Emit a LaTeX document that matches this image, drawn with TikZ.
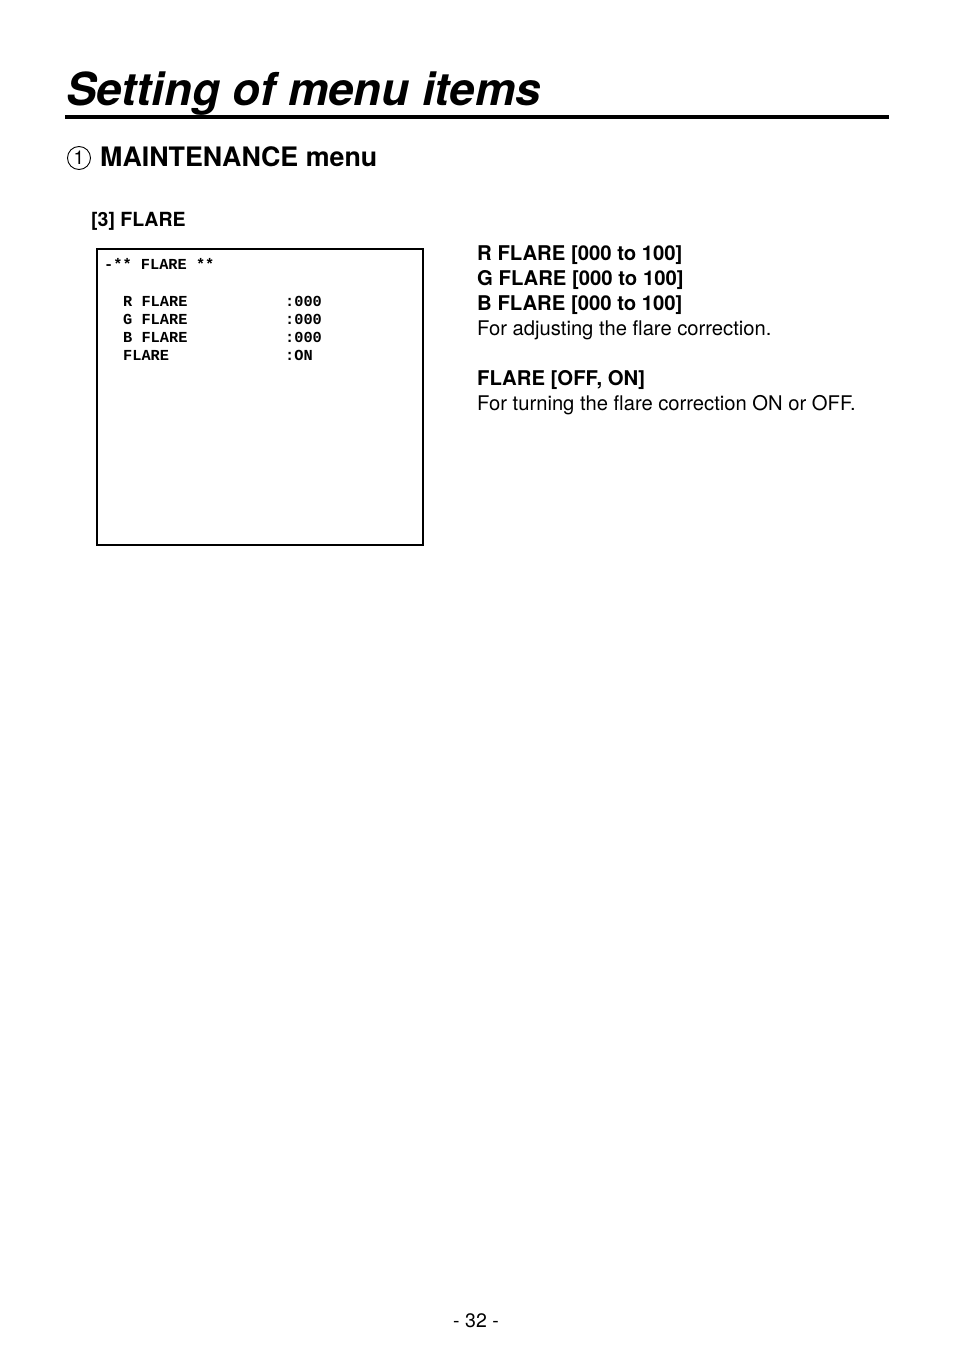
\documentclass[tikz,border=0pt]{standalone}
\usepackage{fontspec}
\setmainfont{TeX Gyre Heros}
\newfontfamily\menufont{Liberation Mono}
\usepackage{tikz}
\newcommand{\menurow}[4]
{   \node[menutxt] (#1) at (123,#2) {#3};
    \node[menutxt] (#1v) at (285,#2) {#4};
}
\newcommand{\itemhead}[3]
{   \node[headtxt] (#1) at (477,#2) {#3};
}
\newcommand{\itembody}[3]
{   \node[bodytxt] (#1) at (477,#2) {#3};
}

\begin{document}
\begin{tikzpicture}[x=1pt,y=-1pt,
  menutxt/.style={anchor=base west,inner sep=0pt,font=\menufont\bfseries\fontsize{15.3}{15}\selectfont},
  headtxt/.style={anchor=base west,inner sep=0pt,font=\bfseries\fontsize{20.3}{20}\selectfont},
  bodytxt/.style={anchor=base west,inner sep=0pt,font=\fontsize{20.2}{20}\selectfont}]

 \useasboundingbox[fill=white] (0,0) rectangle (954,1354);

 % page heading
   \node[anchor=base west,inner sep=0pt,font=\bfseries\itshape\fontsize{45.5}{45}\selectfont] (title) at (66,105) {Setting of menu items};
   \draw[line width=4pt] (65,117) -- (889,117);
   \node[draw,circle,line width=0.9pt,minimum size=23pt,inner sep=0pt,font=\fontsize{19}{19}\selectfont] (num) at (79,158) {1};
   \node[anchor=base west,inner sep=0pt,font=\bfseries\fontsize{26.8}{26}\selectfont] (menu) at (100,166) {MAINTENANCE menu};
   \node[anchor=base west,inner sep=0pt,font=\bfseries\fontsize{19.5}{19.5}\selectfont] (sub) at (91,226) {[3] FLARE};

 % menu screen
   \draw[line width=2.2pt] (97,249) rectangle (423,545);
   \node[menutxt] (top) at (104,269) {-** FLARE **};
   \menurow{r}{306}{R FLARE}{:000}
   \menurow{g}{324}{G FLARE}{:000}
   \menurow{b}{342}{B FLARE}{:000}
   \menurow{f}{360}{FLARE}{:ON}

 % descriptions
   \itemhead{rh}{260}{R FLARE [000 to 100]}
   \itemhead{gh}{285}{G FLARE [000 to 100]}
   \itemhead{bh}{310}{B FLARE [000 to 100]}
   \itembody{rgbd}{335}{For adjusting the flare correction.}
   \itemhead{fh}{385}{FLARE [OFF, ON]}
   \itembody{fd}{410}{For turning the flare correction ON or OFF.}

   \node[anchor=base,inner sep=0pt,font=\fontsize{19.5}{19.5}\selectfont] (page) at (476,1327) {- 32 -};

 \end{tikzpicture}
\end{document}
